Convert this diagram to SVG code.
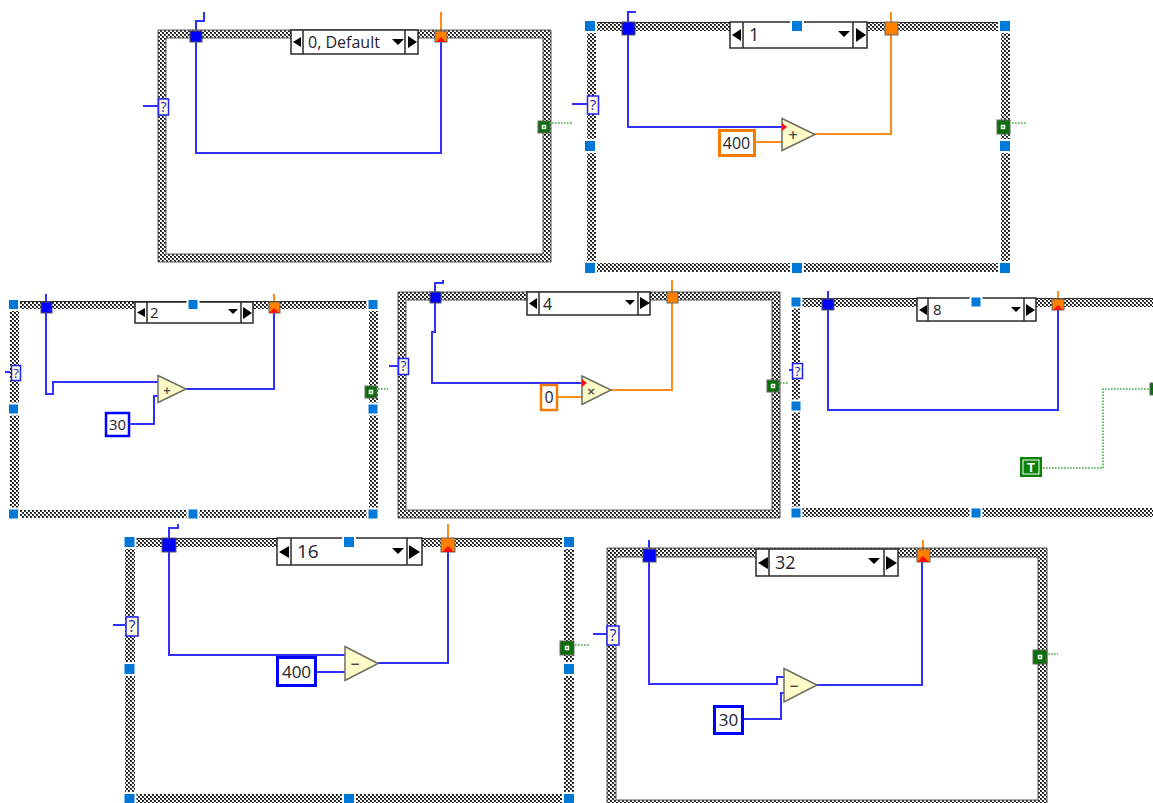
<svg xmlns="http://www.w3.org/2000/svg" width="1153" height="803" viewBox="0 0 1153 803">
<style>
.b{fill:url(#chk);fill-rule:evenodd;stroke:#555;stroke-width:1}
.bn{fill:url(#chk);fill-rule:evenodd}
.h{fill:#0078d7;stroke:#fff;stroke-width:4;paint-order:stroke}
.s{fill:#fff;stroke:#2a2a2a;stroke-width:1.5}
.d{stroke:#2a2a2a;stroke-width:1.5}
.k{fill:#000}
.bw{fill:none;stroke:#3030ff;stroke-width:2}
.ow{fill:none;stroke:#ff8c1a;stroke-width:2}
.gw{fill:none;stroke:#3fa63f;stroke-width:1.6;stroke-dasharray:1.6 1.4}
.tb{fill:#0000ff;stroke:#555;stroke-width:1}
.to{fill:#ff8000;stroke:#666;stroke-width:1}
.r{fill:#ff1010}
.q{fill:#fdfcd8;stroke:#2020ff;stroke-width:1.5}
.qt{font-family:"Open Sans",sans-serif;fill:#2020e0;text-anchor:middle}
.g{fill:#0a6e0a;stroke:#666;stroke-width:1}
.gi{fill:#0a6e0a;stroke:#fff;stroke-width:1.5}
.tri{fill:#fdfcc8;stroke:#6e6e60;stroke-width:1.5}
.op{font-family:"DejaVu Sans",sans-serif;font-weight:bold;fill:#4a4a40;text-anchor:middle}
.t{font-family:"Open Sans",sans-serif;fill:#23232e}
.m{text-anchor:middle}
.cb{fill:#fff;stroke:#0000ff}
.co{fill:#fff;stroke:#f57c00}
</style>
<defs>
<pattern id="chk" patternUnits="userSpaceOnUse" width="4" height="4">
<rect width="4" height="4" fill="#3a3a3a"/>
<rect x="0" y="0" width="2" height="2" fill="#fff"/>
<rect x="2" y="2" width="2" height="2" fill="#fff"/>
<rect x="2" y="0" width="1" height="1" fill="#000"/>
<rect x="0" y="2" width="1" height="1" fill="#000"/>
</pattern>
</defs>
<rect width="1153" height="803" fill="#fff"/>
<g id="connectors">
<path class="bw" d="M196 36V21H204V12"/>
<path class="ow" d="M441 12V36"/>
<path class="bw" d="M196 36V153H441V40"/>
<path class="bw" d="M143 106H158"/>
<path class="gw" d="M552 123H572"/>
<path class="bw" d="M636 12H628V28V127H782"/>
<path class="ow" d="M756 142H782"/>
<path class="ow" d="M815 134H891V12"/>
<path class="bw" d="M572 104H587"/>
<path class="gw" d="M1012 123H1027"/>
<path class="bw" d="M46 294V394H53V382H158"/>
<path class="bw" d="M130 424H154V396H158"/>
<path class="bw" d="M186 389H274V310"/>
<path class="ow" d="M274 294V304"/>
<path class="bw" d="M5 372H11"/>
<path class="gw" d="M378 389H388"/>
<path class="bw" d="M443 280V283H435V332H432V383H582"/>
<path class="ow" d="M558 397H582"/>
<path class="ow" d="M611 390H672V280"/>
<path class="bw" d="M389 366H398"/>
<path class="gw" d="M780 383H789"/>
<path class="bw" d="M828 291V410H1058V308"/>
<path class="ow" d="M1058 291V300"/>
<path class="bw" d="M789 370H792"/>
<path class="gw" d="M1043 468H1103V389H1150"/>
<path class="bw" d="M178 524V528H169V655H345"/>
<path class="bw" d="M317 672H345"/>
<path class="bw" d="M378 663H448V548"/>
<path class="ow" d="M448 524V540"/>
<path class="bw" d="M113 625H125"/>
<path class="gw" d="M575 645H590"/>
<path class="bw" d="M649 540V684H777V677H784"/>
<path class="bw" d="M744 719H781V693H784"/>
<path class="bw" d="M817 685H922V560"/>
<path class="ow" d="M923 540V552"/>
<path class="bw" d="M593 634H607"/>
<path class="gw" d="M1048 654H1058"/>
</g>
<g id="case-0">
<path class="b" d="M158 30H551V262H158Z M166 38V254H543V38Z"/>
<rect class="s" x="291" y="30" width="127" height="24"/>
<path class="d" d="M303 30V54M405 30V54"/>
<path class="k" d="M293 42L301 37V47ZM408 36V48L417 42ZM392 39H404L398 45Z"/>
<text class="t" x="308" y="48" font-size="16">0, Default</text>
<rect class="tb" x="190" y="31" width="12" height="11"/>
<rect class="to" x="435" y="31" width="12" height="11"/>
<path class="r" d="M441 37L446 42H436Z"/>
<rect class="q" x="158.500" y="99" width="10" height="16"/>
<text class="qt" x="163.500" y="112" font-size="14">?</text>
<rect class="g" x="538" y="121" width="12" height="12"/>
<rect class="gi" x="542.500" y="125.500" width="3" height="3"/>
</g>
<g id="case-1">
<path class="bn" d="M587 22H1010V272H587Z M596 31V263H1001V31Z"/>
<path d="M587 22.500H1010" stroke="#2a2a2a" stroke-width="1"/>
<rect class="s" x="730" y="22" width="137" height="26"/>
<path class="d" d="M743 22V48M853 22V48"/>
<path class="k" d="M732 35L741 29V41ZM856 28V42L866 35ZM838 31H850L844 37Z"/>
<text class="t" x="749" y="41" font-size="18">1</text>
<rect class="tb" x="622" y="22" width="13" height="13"/>
<rect class="to" x="885" y="22" width="13" height="13"/>
<rect class="q" x="587.500" y="96" width="11" height="18"/>
<text class="qt" x="593" y="110" font-size="15">?</text>
<rect class="g" x="997" y="120" width="13" height="14"/>
<rect class="gi" x="1001.500" y="125.500" width="3" height="3"/>
<g><rect class="h" x="585" y="21" width="10" height="10"/><rect class="h" x="792" y="21" width="10" height="10"/><rect class="h" x="1000" y="21" width="10" height="10"/><rect class="h" x="585" y="141" width="10" height="10"/><rect class="h" x="1000" y="141" width="10" height="10"/><rect class="h" x="585" y="263" width="10" height="10"/><rect class="h" x="792" y="263" width="10" height="10"/><rect class="h" x="1000" y="263" width="10" height="10"/></g>
<rect class="co" x="719.500" y="130.500" width="35" height="25" stroke-width="3"/>
<text class="t m" x="736.500" y="149" font-size="16">400</text>
<path class="tri" d="M782 118.500L815 134.500L782 150.500Z"/>
<text class="op" x="793" y="139" font-size="12">+</text>
<path class="r" d="M782 123L787 127L782 131Z"/>
</g>
<g id="case-2">
<path class="bn" d="M10 301H378V518H10Z M19 309V510H369V309Z"/>
<path d="M10 301.500H378" stroke="#2a2a2a" stroke-width="1"/>
<rect class="s" x="135" y="302" width="118" height="21"/>
<path class="d" d="M147 302V323M241 302V323"/>
<path class="k" d="M137 312.500L145 308V317ZM243 307V319L252 313ZM228 309H238L233 314Z"/>
<text class="t" x="150" y="318" font-size="15">2</text>
<rect class="tb" x="41" y="302" width="11" height="11"/>
<rect class="to" x="269" y="302" width="11" height="11"/>
<path class="r" d="M274 308L279 313H269Z"/>
<rect class="q" x="11.500" y="365.500" width="9" height="15"/>
<text class="qt" x="16" y="378" font-size="13">?</text>
<rect class="g" x="365" y="386" width="12" height="12"/>
<rect class="gi" x="369.500" y="390.500" width="3" height="3"/>
<g><rect class="h" x="9" y="300" width="9" height="9"/><rect class="h" x="188.500" y="300" width="9" height="9"/><rect class="h" x="368.500" y="300" width="9" height="9"/><rect class="h" x="9" y="404.500" width="9" height="9"/><rect class="h" x="368.500" y="404.500" width="9" height="9"/><rect class="h" x="9" y="509.500" width="9" height="9"/><rect class="h" x="188.500" y="509.500" width="9" height="9"/><rect class="h" x="368.500" y="509.500" width="9" height="9"/></g>
<rect class="cb" x="106" y="413" width="23" height="23" stroke-width="2.500"/>
<text class="t m" x="117.500" y="430" font-size="15">30</text>
<path class="tri" d="M158 375.500L186 389L158 402.500Z"/>
<text class="op" x="167" y="394" font-size="10">+</text>
</g>
<g id="case-4">
<path class="b" d="M398 292H780V518H398Z M406 300V510H772V300Z"/>
<rect class="s" x="527" y="292" width="123" height="23"/>
<path class="d" d="M539 292V315M638 292V315"/>
<path class="k" d="M529 303.500L537 298V309ZM640 297V309L650 303ZM625 300H635L630 305Z"/>
<text class="t" x="543" y="310" font-size="16">4</text>
<rect class="tb" x="430" y="292" width="11" height="11"/>
<rect class="to" x="667" y="292" width="11" height="11"/>
<rect class="q" x="398.500" y="358.500" width="10" height="16"/>
<text class="qt" x="403.500" y="371" font-size="14">?</text>
<rect class="g" x="767" y="380" width="12" height="12"/>
<rect class="gi" x="771.500" y="384.500" width="3" height="3"/>
<rect class="co" x="541" y="385" width="16" height="25" stroke-width="2.500"/>
<text class="t m" x="549" y="403" font-size="16">0</text>
<path class="tri" d="M582 376L611 390L582 404.500Z"/>
<text class="op" x="591" y="395" font-size="11">×</text>
<path class="r" d="M582 379L587 383L582 387Z"/>
</g>
<g id="case-8">
<path class="bn" d="M792 298H1153V517H792Z M800 307V508H1153V307Z"/>
<path d="M792 298.500H1153" stroke="#2a2a2a" stroke-width="1"/>
<rect class="s" x="917" y="298" width="119" height="23"/>
<path class="d" d="M928 298V321M1024 298V321"/>
<path class="k" d="M919 310L927 305V315ZM1026 304V316L1035 310ZM1011 307H1021L1016 312Z"/>
<text class="t" x="933" y="315" font-size="15">8</text>
<rect class="tb" x="822" y="299" width="12" height="11"/>
<rect class="to" x="1052" y="299" width="12" height="11"/>
<path class="r" d="M1058 305L1063 310H1053Z"/>
<rect class="q" x="792.500" y="363.500" width="10" height="15"/>
<text class="qt" x="797.500" y="376" font-size="13">?</text>
<rect class="g" x="1150" y="383" width="6" height="12"/>
<g><rect class="h" x="791.500" y="297.500" width="9" height="9"/><rect class="h" x="971.500" y="297.500" width="9" height="9"/><rect class="h" x="791.500" y="401.500" width="9" height="9"/><rect class="h" x="791.500" y="508.500" width="9" height="9"/><rect class="h" x="971.500" y="508.500" width="9" height="9"/></g>
</g>
<g id="true-constant">
<rect x="1020" y="457" width="22" height="20" fill="#0a820a"/>
<rect x="1023" y="460" width="16" height="14" fill="#0a820a" stroke="#fff" stroke-width="1"/>
<text x="1031" y="472" font-family="'Liberation Sans',sans-serif" font-size="13" font-weight="bold" fill="#fff" text-anchor="middle">T</text>
</g>
<g id="case-16">
<path class="bn" d="M125 538H574V803H125Z M135 547V794H564V547Z"/>
<path d="M125 538.500H574" stroke="#2a2a2a" stroke-width="1"/>
<rect class="s" x="277" y="538" width="145" height="27"/>
<path class="d" d="M291 538V565M407 538V565"/>
<path class="k" d="M279 552L289 546V558ZM409 545V559L420 552ZM392 548H404L398 554Z"/>
<text class="t" x="297" y="558" font-size="19">16</text>
<rect class="tb" x="162" y="538" width="14" height="14"/>
<rect class="to" x="441" y="538" width="14" height="14"/>
<path class="r" d="M448 546L454 552H442Z"/>
<rect class="q" x="126" y="617" width="12" height="19"/>
<text class="qt" x="132" y="632" font-size="16">?</text>
<rect class="g" x="560" y="641" width="14" height="14"/>
<rect class="gi" x="565.500" y="646.500" width="3" height="3"/>
<g><rect class="h" x="124.500" y="537" width="10" height="10"/><rect class="h" x="344" y="537" width="10" height="10"/><rect class="h" x="564" y="537" width="10" height="10"/><rect class="h" x="124.500" y="664" width="10" height="10"/><rect class="h" x="564" y="664" width="10" height="10"/><rect class="h" x="124.500" y="794" width="10" height="10"/><rect class="h" x="344" y="794" width="10" height="10"/><rect class="h" x="564" y="794" width="10" height="10"/></g>
<rect class="cb" x="277.500" y="657.500" width="38" height="28" stroke-width="3"/>
<text class="t m" x="296.500" y="678" font-size="17">400</text>
<path class="tri" d="M345 646.500L378 663.500L345 680.500Z"/>
<text class="op" x="355" y="668" font-size="12">−</text>
</g>
<g id="case-32">
<path class="b" d="M607 548H1047V806H607Z M616 557V800H1038V557Z"/>
<rect class="s" x="756" y="549" width="142" height="27"/>
<path class="d" d="M769 549V576M884 549V576"/>
<path class="k" d="M758 563L768 557V569ZM886 556V570L897 563ZM868 558H880L874 564Z"/>
<text class="t" x="775" y="569" font-size="18">32</text>
<rect class="tb" x="643" y="549" width="13" height="13"/>
<rect class="to" x="917" y="549" width="13" height="13"/>
<path class="r" d="M923 556L929 562H917Z"/>
<rect class="q" x="607" y="626" width="12" height="19"/>
<text class="qt" x="613" y="641" font-size="16">?</text>
<rect class="g" x="1033" y="650" width="14" height="14"/>
<rect class="gi" x="1038.500" y="655.500" width="3" height="3"/>
<rect class="cb" x="714.500" y="706.500" width="28" height="27" stroke-width="3"/>
<text class="t m" x="728.500" y="726" font-size="17">30</text>
<path class="tri" d="M784 668.500L817 685L784 702Z"/>
<text class="op" x="794" y="690" font-size="12">−</text>
</g>
</svg>
